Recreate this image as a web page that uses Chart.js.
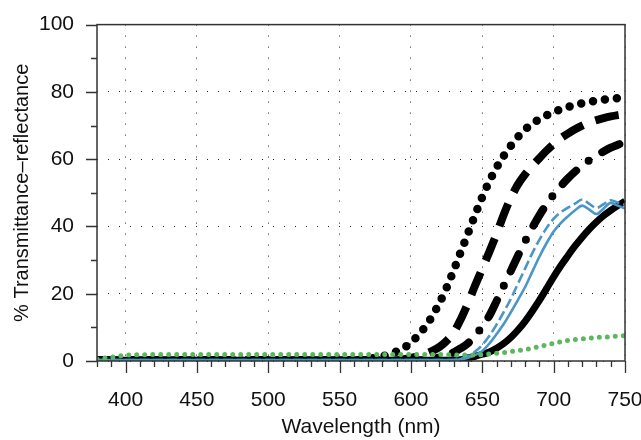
<!DOCTYPE html>
<html>
<head>
<meta charset="utf-8">
<script src="https://cdn.jsdelivr.net/npm/chart.js@4.4.1/dist/chart.umd.min.js"></script>
<style>
html, body { margin: 0; padding: 0; background: #fff; }
#wrap { width: 641px; height: 440px; }
</style>
</head>
<body>
<div id="wrap"><canvas id="chart" width="641" height="440"></canvas></div>
<script>
// wavelength (nm) sample points shared by every curve
var wavelengths = [380, 390, 400, 420, 450, 500, 550, 570,
    580, 585, 590, 595, 600, 605, 610, 615, 620, 625, 630, 635, 640, 645, 650, 655, 660,
    665, 670, 675, 680, 685, 690, 695, 700, 705, 710, 715, 720, 725, 730, 735, 740, 745, 750];

var blackDotted = [0.2, 0.2, 0.2, 0.2, 0.2, 0.2, 0.2, 0.6,
    1.4, 2.1, 2.8, 3.9, 5.5, 7.6, 10.2, 13.4, 17.3, 21.8, 27, 32.5, 38, 43.5, 48.8, 53.5, 57.5,
    61, 64, 66.6, 68.8, 70.5, 71.9, 73, 74, 74.8, 75.5, 76.1, 76.6, 77, 77.4, 77.7, 77.9, 78.1, 78.3];

var blackDashed = [0.25, 0.25, 0.25, 0.25, 0.25, 0.25, 0.25, 0.25,
    0.25, 0.25, 0.25, 0.5, 0.9, 1.4, 2.1, 3, 4.2, 6, 8.5, 12.5, 17.2, 22.5, 27.5, 32.5, 37.8,
    43.5, 48.5, 52.5, 55.5, 58, 60.3, 62.5, 64.5, 66.2, 67.6, 68.9, 70, 70.9, 71.6, 72.2, 72.7, 73.1, 73.4];

var blackDashDot = [0.25, 0.25, 0.25, 0.25, 0.25, 0.25, 0.25, 0.25,
    0.25, 0.25, 0.25, 0.25, 0.25, 0.25, 0.3, 0.6, 1.1, 1.7, 2.6, 3.8, 5.3, 7.5, 10.3, 13.5, 17.8,
    22.3, 26.8, 31.3, 35.6, 39.6, 43.3, 46.6, 49.5, 52, 54.3, 56.3, 58.1, 59.7, 61.1, 62.3, 63.4, 64.3, 65.2];

var blackSolid = [0.25, 0.25, 0.25, 0.25, 0.25, 0.25, 0.25, 0.25,
    0.25, 0.25, 0.25, 0.25, 0.25, 0.25, 0.25, 0.25, 0.25, 0.25, 0.25, 0.4, 0.9, 1.4, 2, 2.7, 3.8,
    5.2, 7, 9.2, 11.8, 14.8, 18, 21.5, 25, 28.3, 31.3, 34.2, 36.8, 39.2, 41.3, 43.2, 44.8, 46.2, 47.5];

var blueSolid = [0.3, 0.3, 0.3, 0.3, 0.3, 0.3, 0.3, 0.3,
    0.3, 0.3, 0.3, 0.3, 0.3, 0.3, 0.3, 0.3, 0.3, 0.3, 0.3, 0.5, 1, 1.8, 3, 5.2, 8,
    11, 14.5, 18.2, 22, 26.5, 31, 35, 38.5, 41, 43, 44.8, 46.2, 45, 43.7, 45.3, 47, 46.2, 45.3];

var blueDashed = [0.3, 0.3, 0.3, 0.3, 0.3, 0.3, 0.3, 0.3,
    0.3, 0.3, 0.3, 0.3, 0.3, 0.3, 0.3, 0.3, 0.3, 0.3, 0.3, 0.7, 1.4, 2.8, 4.8, 7.5, 10.8,
    14.5, 18.5, 23, 27.5, 32, 36, 39.5, 42.3, 44.2, 45.6, 46.8, 48, 46.7, 45.5, 46.6, 47.8, 47.1, 46.4];

var greenDotted = [0.6, 1.1, 1.7, 1.9, 1.9, 1.9, 1.9, 1.9,
    1.9, 1.9, 1.9, 1.9, 1.9, 1.9, 1.9, 1.9, 1.9, 1.9, 1.8, 1.8, 1.8, 1.8, 1.9, 2.1, 2.3,
    2.5, 2.8, 3.1, 3.4, 3.8, 4.3, 4.8, 5.2, 5.7, 6.1, 6.4, 6.6, 6.8, 7, 7.1, 7.2, 7.4, 7.5];

var xTicks = [400, 450, 500, 550, 600, 650, 700, 750];
var yTicks = [0, 20, 40, 60, 80, 100];

(function () {
    var FONT = 'Liberation Sans, Arial, Helvetica, sans-serif';
    var BLUE = '#4a96c8';
    var GREEN = '#5cb85f';

    function toPoints(values) {
        var pts = [];
        for (var i = 0; i < wavelengths.length; i++) {
            pts.push({ x: wavelengths[i], y: values[i] });
        }
        return pts;
    }

    function line(values, color, width, dash, cap) {
        return {
            data: toPoints(values),
            borderColor: color,
            borderWidth: width,
            borderDash: dash || [],
            borderCapStyle: cap || 'butt',
            pointRadius: 0,
            fill: false,
            clip: 0,
            cubicInterpolationMode: 'monotone'
        };
    }

    // box round the plot plus major/minor tick marks outside it
    var axisFrame = {
        id: 'axisFrame',
        afterDraw: function (chart) {
            var ctx = chart.ctx, a = chart.chartArea;
            var xs = chart.scales.x, ys = chart.scales.y;
            ctx.save();
            ctx.strokeStyle = '#333';
            ctx.lineWidth = 1.5;
            ctx.strokeRect(a.left, a.top, a.right - a.left, a.bottom - a.top);
            ctx.beginPath();
            for (var v = 380; v <= 750; v += 10) {
                var px = Math.round(xs.getPixelForValue(v)) + 0.5;
                ctx.moveTo(px, a.bottom);
                ctx.lineTo(px, a.bottom + (v % 50 === 0 ? 12 : 6));
            }
            for (var w = 0; w <= 100; w += 10) {
                var py = Math.round(ys.getPixelForValue(w)) + 0.5;
                ctx.moveTo(a.left, py);
                ctx.lineTo(a.left - (w % 20 === 0 ? 11 : 6), py);
            }
            ctx.lineWidth = 1.3;
            ctx.stroke();
            ctx.restore();
        }
    };

    new Chart(document.getElementById('chart'), {
        type: 'line',
        data: {
            datasets: [
                line(greenDotted, GREEN, 5, [0, 8], 'round'),
                line(blueSolid, BLUE, 2.6),
                line(blueDashed, BLUE, 2.6, [10, 4]),
                line(blackSolid, '#000', 7),
                line(blackDashDot, '#000', 8, [19, 16, 0, 16], 'round'),
                line(blackDashed, '#000', 8, [24, 13]),
                line(blackDotted, '#000', 8.5, [0, 12], 'round')
            ]
        },
        options: {
            responsive: false,
            animation: false,
            layout: { padding: { top: 19, right: 0, left: 0, bottom: 0 } },
            plugins: {
                legend: { display: false },
                tooltip: { enabled: false }
            },
            scales: {
                x: {
                    type: 'linear',
                    min: 380,
                    max: 750,
                    afterBuildTicks: function (s) {
                        s.ticks = xTicks.map(function (v) { return { value: v }; });
                    },
                    afterFit: function (s) {
                        s.height = 79;
                        s.paddingLeft = 0;
                        s.paddingRight = 16;
                    },
                    grid: { color: '#222', lineWidth: 1, drawTicks: true, tickLength: 12, tickColor: 'rgba(0,0,0,0)' },
                    border: { display: false, dash: [1, 10] },
                    ticks: { color: '#111', padding: 15, maxRotation: 0, font: { family: FONT, size: 21 } },
                    title: {
                        display: true,
                        text: 'Wavelength (nm)',
                        color: '#111',
                        padding: { top: 0, bottom: 0 },
                        font: { family: FONT, size: 21 }
                    }
                },
                y: {
                    min: 0,
                    max: 100,
                    afterBuildTicks: function (s) {
                        s.ticks = yTicks.map(function (v) { return { value: v }; });
                    },
                    afterFit: function (s) { s.width = 97; },
                    grid: { color: '#222', lineWidth: 1, drawTicks: true, tickLength: 11, tickColor: 'rgba(0,0,0,0)' },
                    border: { display: false, dash: [1, 10] },
                    ticks: { color: '#111', padding: 12, font: { family: FONT, size: 21 } },
                    title: {
                        display: true,
                        text: '% Transmittance\u2013reflectance',
                        color: '#111',
                        padding: { top: 10, bottom: 0 },
                        font: { family: FONT, size: 20 }
                    }
                }
            }
        },
        plugins: [axisFrame]
    });
})();
</script>
</body>
</html>
